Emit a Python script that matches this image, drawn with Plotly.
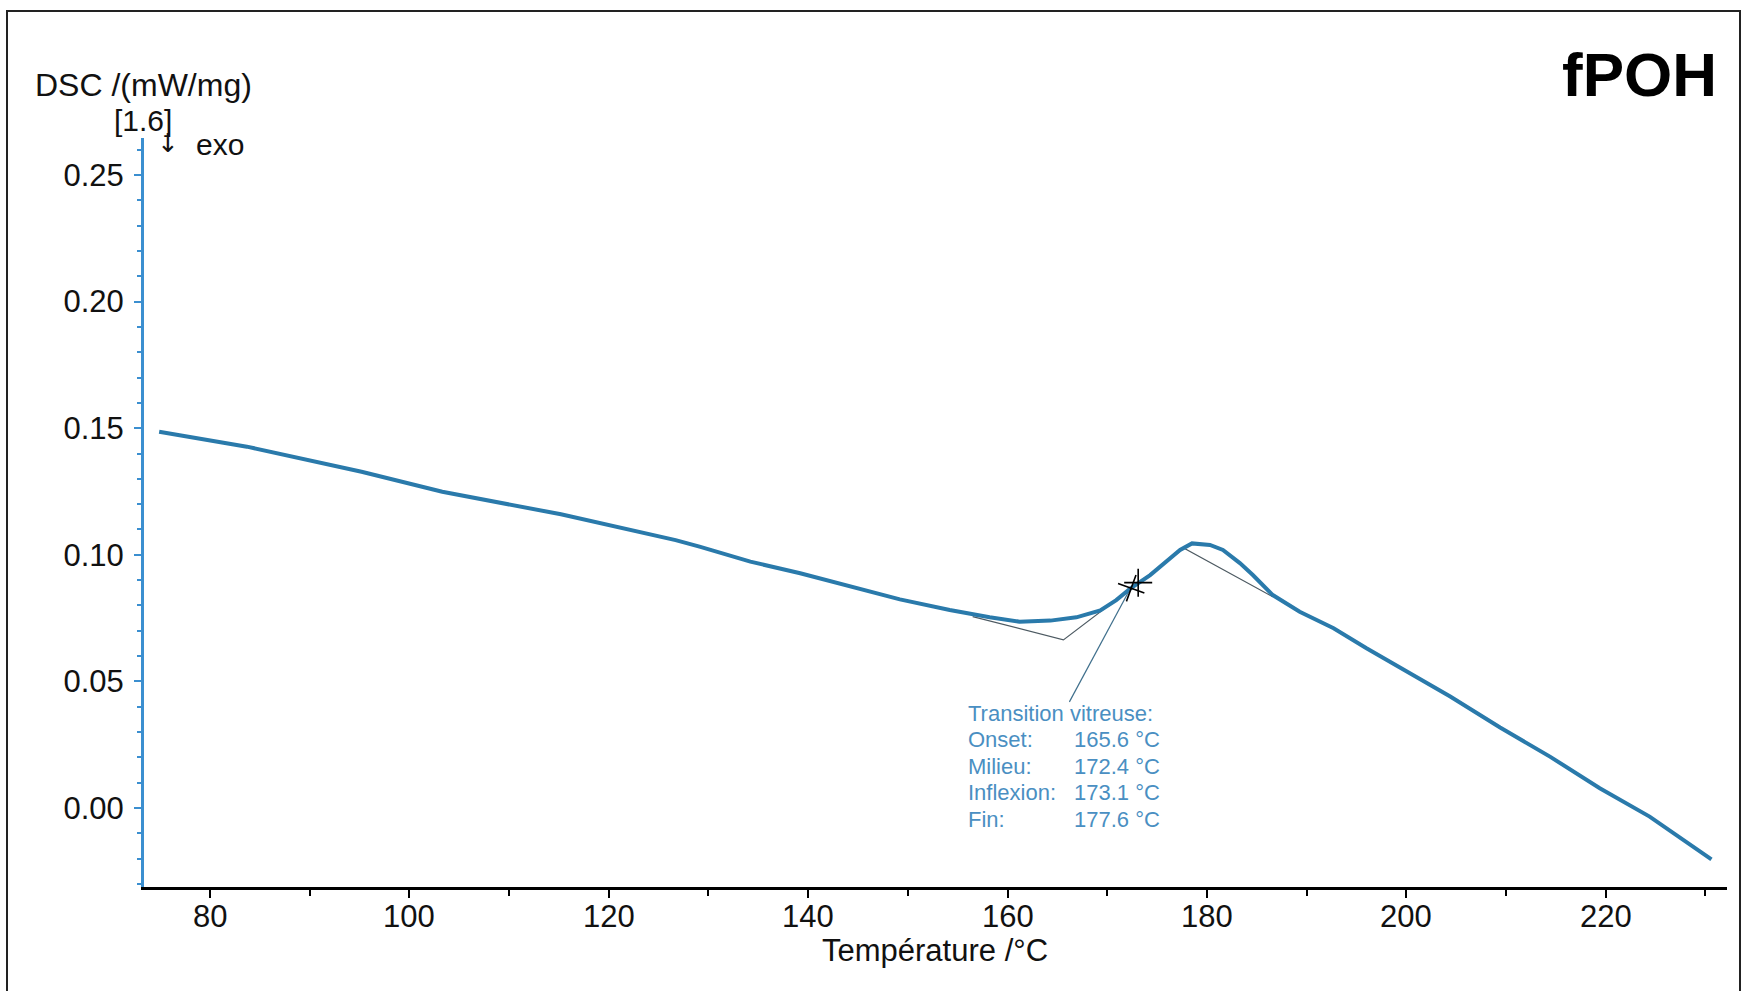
import plotly.graph_objects as go

# ---- data ----
temperature = [74.9, 83.7, 95.2, 103.3, 115.2, 126.7, 129.1, 134.2, 139.2, 144.2,
               149.2, 154.2, 158.2, 161.2, 164.3, 166.9, 169.3, 170.9, 172.3, 174.3,
               176.0, 177.3, 178.5, 180.3, 181.6, 183.3, 184.6, 186.6, 189.3, 192.7,
               196.0, 199.4, 204.4, 209.4, 214.4, 219.4, 224.4, 230.6]
dsc = [0.1486, 0.1427, 0.1328, 0.1249, 0.1160, 0.1058, 0.1032, 0.0973, 0.0927, 0.0874,
       0.0824, 0.0782, 0.0753, 0.0736, 0.0740, 0.0753, 0.0780, 0.0821, 0.0866, 0.0920,
       0.0979, 0.1019, 0.1045, 0.1039, 0.1019, 0.0967, 0.0920, 0.0841, 0.0775, 0.0710,
       0.0631, 0.0552, 0.0440, 0.0318, 0.0203, 0.0078, -0.0034, -0.0203]

# tangent construction (lower baseline, inflection tangent, upper baseline)
tangent_t = [156.5, 165.6, 177.7, 186.6]
tangent_v = [0.0756, 0.0664, 0.1026, 0.0834]

# evaluated points (Milieu, Inflexion)
mark_t = [172.4, 173.1]
mark_v = [0.0868, 0.0890]

# leader line from the marks to the result box
leader_t = [172.3, 166.2]
leader_v = [0.0866, 0.0419]

result_labels = ["Transition vitreuse:", "Onset:", "Milieu:", "Inflexion:", "Fin:"]
result_values = ["", "165.6 °C", "172.4 °C", "173.1 °C", "177.6 °C"]

x_ticks = [80, 100, 120, 140, 160, 180, 200, 220]
y_ticks = [0.00, 0.05, 0.10, 0.15, 0.20, 0.25]

FONT = "Liberation Sans, Arial, sans-serif"
CURVE = "#2a7aab"
AXBLUE = "#3b8fd0"
TXTBLUE = "#4a8fc2"

fig = go.Figure()
fig.add_trace(go.Scatter(x=tangent_t, y=tangent_v, mode="lines",
                         line=dict(color="#4d5a62", width=1.2), hoverinfo="skip"))
fig.add_trace(go.Scatter(x=leader_t, y=leader_v, mode="lines",
                         line=dict(color="#3f6f8c", width=1.2), hoverinfo="skip"))
fig.add_trace(go.Scatter(x=temperature, y=dsc, mode="lines",
                         line=dict(color=CURVE, width=4), hoverinfo="skip"))
fig.add_trace(go.Scatter(x=mark_t, y=mark_v, mode="markers",
                         marker=dict(symbol="cross-thin", size=20, angle=[20, 0],
                                     line=dict(color="black", width=1.6)),
                         hoverinfo="skip"))

# layout geometry
L, R, T, B = 144, 21, 138, 104
W, H = 1748, 991
pw, ph = W - L - R, H - T - B


def px(X):
    return (X - L) / pw


def py(Y):
    return (H - B - Y) / ph


annotations = []
annotations.append(dict(text="DSC /(mW/mg)", x=px(33), y=py(85), xref="paper", yref="paper",
                        xanchor="left", yanchor="middle", showarrow=False,
                        font=dict(family=FONT, size=32, color="#111")))
annotations.append(dict(text="[1.6]", x=px(112), y=py(121), xref="paper", yref="paper",
                        xanchor="left", yanchor="middle", showarrow=False,
                        font=dict(family=FONT, size=30, color="#111")))
annotations.append(dict(text="↓", x=px(168), y=py(143), xref="paper", yref="paper",
                        xanchor="center", yanchor="middle", showarrow=False,
                        font=dict(family="DejaVu Sans, sans-serif", size=26, color="#111")))
annotations.append(dict(text="exo", x=px(194), y=py(144), xref="paper", yref="paper",
                        xanchor="left", yanchor="middle", showarrow=False,
                        font=dict(family=FONT, size=30, color="#111")))
annotations.append(dict(text="<b>fPOH</b>", x=px(1639), y=py(74), xref="paper", yref="paper",
                        xanchor="center", yanchor="middle", showarrow=False,
                        font=dict(family=FONT, size=62, color="#000")))
annotations.append(dict(text="Température /°C", x=px(935), y=py(951), xref="paper", yref="paper",
                        xanchor="center", yanchor="middle", showarrow=False,
                        font=dict(family=FONT, size=31, color="#111")))

# x tick labels placed on the data axis
for v in x_ticks:
    annotations.append(dict(text=str(v), x=v, y=py(916), xref="x", yref="paper",
                            xanchor="center", yanchor="middle", showarrow=False,
                            font=dict(family=FONT, size=31, color="#111")))

line_y0 = 713
for i, (lab, val) in enumerate(zip(result_labels, result_values)):
    Y = line_y0 + i * 26.5
    annotations.append(dict(text=lab, x=px(966), y=py(Y), xref="paper", yref="paper",
                            xanchor="left", yanchor="middle", showarrow=False,
                            font=dict(family=FONT, size=22, color=TXTBLUE)))
    if val:
        annotations.append(dict(text=val, x=px(1072), y=py(Y), xref="paper", yref="paper",
                                xanchor="left", yanchor="middle", showarrow=False,
                                font=dict(family=FONT, size=22, color=TXTBLUE)))

shapes = [dict(type="rect", xref="paper", yref="paper",
               x0=px(7), x1=px(1740), y0=py(11), y1=py(1000),
               line=dict(color="#222", width=2), fillcolor="rgba(0,0,0,0)", layer="below")]

fig.update_layout(
    width=W, height=H,
    margin=dict(l=L, r=R, t=T, b=B, autoexpand=False),
    paper_bgcolor="white", plot_bgcolor="white",
    showlegend=False,
    annotations=annotations,
    shapes=shapes,
    xaxis=dict(range=[73.38, 232.16], tickvals=x_ticks, showticklabels=False,
               showgrid=False, zeroline=False, showline=True, linecolor="black", linewidth=3,
               ticks="outside", ticklen=8, tickwidth=2, tickcolor="black",
               minor=dict(tickvals=[90, 110, 130, 150, 170, 190, 210, 230], ticks="outside",
                          ticklen=6, tickwidth=2, tickcolor="black")),
    yaxis=dict(range=[-0.0312, 0.2646], tickvals=y_ticks, ticktext=["%.2f" % v for v in y_ticks],
               showgrid=False, zeroline=False, showline=True, linecolor=AXBLUE, linewidth=3,
               ticks="outside", ticklen=7, tickwidth=2, tickcolor=AXBLUE,
               minor=dict(dtick=0.01, tick0=0, ticks="outside", ticklen=4, tickwidth=2,
                          tickcolor=AXBLUE),
               tickfont=dict(family=FONT, size=31, color="#111"), ticklabelstandoff=4),
)

fig.write_html("out.html")
